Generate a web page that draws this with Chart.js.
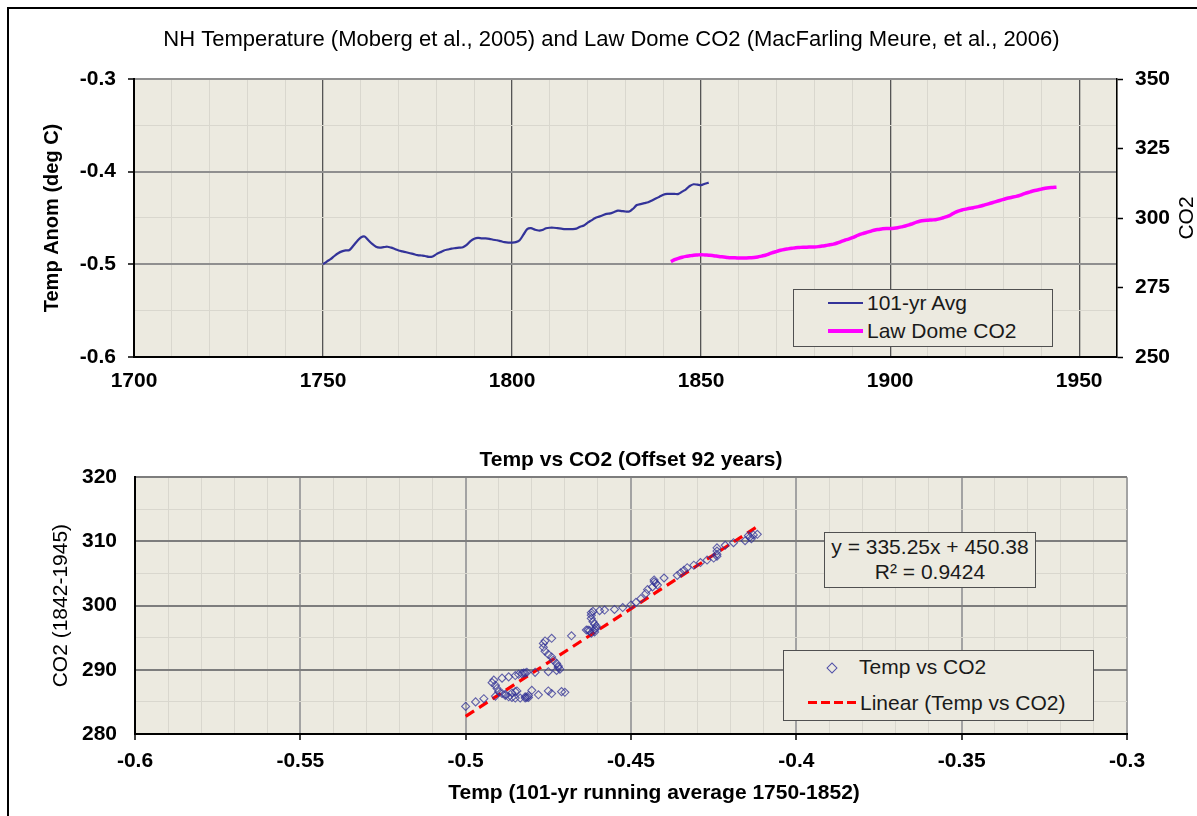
<!DOCTYPE html>
<html>
<head>
<meta charset="utf-8">
<script src="https://cdn.jsdelivr.net/npm/chart.js@4.4.1/dist/chart.umd.min.js"></script>
<style>
  html, body { margin:0; padding:0; background:#fff; overflow:hidden; }
  body { width:1197px; height:816px; position:relative; font-family:"Liberation Sans", Arial, sans-serif; }
  #frame { position:absolute; left:7px; top:7px; width:1300px; height:900px; border-left:2px solid #000; border-top:2px solid #000; }
  canvas { position:absolute; left:0; }
  #c1 { top:0; }
  #c2 { top:420px; }
  .box { position:absolute; background:#ECEAE0; border:1.5px solid #505050; box-sizing:border-box; }
  .txt { position:absolute; font-size:21px; line-height:26px; color:#1a1a1a; white-space:nowrap; }
  .ln { position:absolute; }
</style>
</head>
<body>
<div id="frame"></div>
<canvas id="c1" width="1197" height="420"></canvas>
<canvas id="c2" width="1197" height="396"></canvas>

<!-- top legend -->
<div class="box" style="left:793px;top:289px;width:260px;height:58px;"></div>
<div class="ln" style="left:828px;top:302px;width:35px;height:2px;background:#333399;"></div>
<div class="txt" id="lg1a" style="left:867px;top:290px;"></div>
<div class="ln" style="left:828px;top:329px;width:35px;height:4px;background:#FF00FF;"></div>
<div class="txt" id="lg1b" style="left:867px;top:318px;"></div>

<!-- equation box -->
<div class="box" style="left:824px;top:532px;width:212px;height:56px;"></div>
<div class="txt" id="eq1" style="left:824px;width:212px;text-align:center;top:534px;"></div>
<div class="txt" id="eq2" style="left:824px;width:212px;text-align:center;top:559px;"></div>

<!-- bottom legend -->
<div class="box" style="left:783px;top:650px;width:311px;height:71px;"></div>
<div class="ln" style="left:828px;top:664px;width:6px;height:6px;border:1px solid #5050a8;transform:rotate(45deg);"></div>
<div class="txt" id="lg2a" style="left:859px;top:654px;"></div>
<div class="ln" style="left:808px;top:701px;width:48px;height:3px;background:repeating-linear-gradient(90deg,#FF0000 0,#FF0000 9px,transparent 9px,transparent 13px);"></div>
<div class="txt" id="lg2b" style="left:860px;top:690px;"></div>

<script>
// ---------------- DATA ----------------
const TEMP_START_YEAR = 1750;   // 101-yr running average, 1750-1852
const CO2_START_YEAR = 1842;    // Law Dome CO2, offset 92 years

const tempAvg = [
  -0.500,-0.497,-0.4945,-0.491,-0.488,-0.486,-0.485,-0.4845,-0.480,-0.475,
  -0.471,-0.470,-0.474,-0.478,-0.481,-0.482,-0.4815,-0.481,-0.482,-0.4835,
  -0.485,-0.486,-0.487,-0.488,-0.489,-0.490,-0.4905,-0.491,-0.492,-0.4915,
  -0.489,-0.487,-0.485,-0.484,-0.483,-0.4825,-0.482,-0.4815,-0.479,-0.475,
  -0.4725,-0.4715,-0.472,-0.472,-0.4725,-0.4735,-0.474,-0.475,-0.476,-0.4765,
  -0.4765,-0.476,-0.474,-0.468,-0.462,-0.461,-0.4625,-0.4635,-0.463,-0.461,
  -0.4605,-0.4605,-0.461,-0.4615,-0.462,-0.462,-0.462,-0.4615,-0.4595,-0.458,
  -0.455,-0.4525,-0.450,-0.4485,-0.447,-0.4455,-0.445,-0.4435,-0.442,-0.4425,
  -0.443,-0.443,-0.440,-0.436,-0.435,-0.434,-0.433,-0.431,-0.429,-0.427,
  -0.425,-0.424,-0.424,-0.424,-0.424,-0.4215,-0.419,-0.4155,-0.4136,-0.414,
  -0.4145,-0.413,-0.4118
];

const co2LawDome = [
  284.3,285.0,285.5,285.9,286.2,286.4,286.6,286.7,286.8,286.7,
  286.6,286.5,286.3,286.1,286.0,285.8,285.7,285.7,285.6,285.6,
  285.6,285.7,285.8,286.0,286.3,286.6,287.1,287.6,288.0,288.4,
  288.7,288.9,289.1,289.3,289.4,289.5,289.5,289.6,289.6,289.7,
  289.9,290.1,290.4,290.6,291.0,291.5,292.0,292.4,292.9,293.5,
  294.1,294.5,294.9,295.3,295.7,295.9,296.1,296.2,296.2,296.3,
  296.5,296.8,297.1,297.5,298.0,298.5,298.9,299.1,299.2,299.3,
  299.4,299.7,300.1,300.5,301.1,301.9,302.5,302.9,303.2,303.5,
  303.7,304.0,304.3,304.7,305.1,305.5,305.9,306.3,306.7,307.1,
  307.4,307.7,308.0,308.5,309.0,309.4,309.8,310.1,310.4,310.7,
  310.9,311.0,311.1
];

const trendSlope = 335.25;
const trendIntercept = 450.38;
const trendR2 = 0.9424;

// tick labels
const topXLabels  = [1700, 1750, 1800, 1850, 1900, 1950];
const topYLabels  = [-0.6, -0.5, -0.4, -0.3];
const topY2Labels = [250, 275, 300, 325, 350];
const botXLabels  = [-0.6, -0.55, -0.5, -0.45, -0.4, -0.35, -0.3];
const botYLabels  = [280, 290, 300, 310, 320];

// texts
const titleTop = 'NH Temperature (Moberg et al., 2005) and Law Dome CO2 (MacFarling Meure, et al., 2006)';
const titleBot = 'Temp vs CO2 (Offset 92 years)';
const seriesTempName = '101-yr Avg';
const seriesCO2Name = 'Law Dome CO2';
const scatterName = 'Temp vs CO2';
const trendName = 'Linear (Temp vs CO2)';
const botXTitle = 'Temp (101-yr running average 1750-1852)';

// ---------------- HELPERS ----------------
const FONT = '"Liberation Sans", Arial, sans-serif';
const BG = '#ECEAE0';
const MINOR = '#D9D7CE';
function isLabel(list, v) { return list.some(l => Math.abs(l - v) < 1e-7); }
function labelOf(list, v) { const f = list.find(l => Math.abs(l - v) < 1e-7); return f === undefined ? '' : String(f); }

const plotBg = {
  id: 'plotBg',
  beforeDraw(chart) {
    const {ctx, chartArea: a} = chart;
    ctx.save(); ctx.fillStyle = BG; ctx.fillRect(a.left, a.top, a.right - a.left, a.bottom - a.top); ctx.restore();
  }
};
const rightTitle = {
  id: 'rightTitle',
  afterDraw(chart) {
    const s = chart.scales.y2; const ctx = chart.ctx;
    ctx.save();
    ctx.translate(s.right - 10, (s.top + s.bottom) / 2);
    ctx.rotate(-Math.PI / 2);
    ctx.font = '21px ' + FONT; ctx.fillStyle = '#000';
    ctx.textAlign = 'center'; ctx.textBaseline = 'middle';
    ctx.fillText('CO2', 0, 0);
    ctx.restore();
  }
};
const bottomXTitle = {
  id: 'bottomXTitle',
  afterDraw(chart) {
    const s = chart.scales.x; const ctx = chart.ctx;
    ctx.save();
    ctx.font = 'bold 21px ' + FONT; ctx.fillStyle = '#000';
    ctx.textAlign = 'center'; ctx.textBaseline = 'middle';
    ctx.fillText(botXTitle, (s.left + s.right) / 2 + 23, s.bottom - 23);
    ctx.restore();
  }
};

Chart.defaults.font.family = FONT;
Chart.defaults.color = '#000';

const tickFont = {size: 21, weight: 'bold', family: FONT};

// ---------------- CHART 1 ----------------
new Chart(document.getElementById('c1'), {
  type: 'scatter',
  data: {
    datasets: [
      { label: seriesTempName, yAxisID: 'y',
        data: tempAvg.map((v, i) => ({x: TEMP_START_YEAR + i, y: v})),
        showLine: true, borderColor: '#333399', borderWidth: 2.2, pointRadius: 0, tension: 0.3 },
      { label: seriesCO2Name, yAxisID: 'y2',
        data: co2LawDome.map((v, i) => ({x: CO2_START_YEAR + i, y: v})),
        showLine: true, borderColor: '#FF00FF', borderWidth: 3.5, pointRadius: 0, tension: 0.3 }
    ]
  },
  options: {
    responsive: false, animation: false,
    layout: {padding: {left: 26, right: 0, top: 0, bottom: 0}},
    plugins: {
      legend: {display: false}, tooltip: {enabled: false},
      title: {display: true, text: titleTop, color: '#000',
              font: {size: 22, weight: 'normal', family: FONT}, padding: {top: 27, bottom: 25.6}}
    },
    scales: {
      x: {
        type: 'linear', min: 1700, max: 1960,
        afterFit: s => { s.height = 63; },
        ticks: {stepSize: 10, autoSkip: false, maxRotation: 0, font: tickFont, padding: 12,
                callback: v => labelOf(topXLabels, v)},
        grid: {drawTicks: false,
               color: c => (c.tick && isLabel(topXLabels, c.tick.value)) ? '#555' : MINOR,
               lineWidth: c => (c.tick && isLabel(topXLabels, c.tick.value)) ? 1.3 : 1},
        border: {color: '#000', width: 2}
      },
      y: {
        position: 'left', min: -0.6, max: -0.3,
        afterFit: s => { s.width = 108; },
        ticks: {stepSize: 0.05, autoSkip: false, font: tickFont, padding: 12,
                callback: v => { const l = labelOf(topYLabels, v); return l === '' ? '' : Number(l).toFixed(1); }},
        grid: {tickLength: 6,
               color: c => (c.tick && isLabel(topYLabels, c.tick.value)) ? '#8F8F8F' : MINOR,
               lineWidth: c => (c.tick && isLabel(topYLabels, c.tick.value)) ? 2 : 1,
               tickColor: c => (c.tick && isLabel(topYLabels, c.tick.value)) ? '#000' : 'rgba(0,0,0,0)',
               tickWidth: 1.5},
        border: {color: '#000', width: 2},
        title: {display: true, text: 'Temp Anom (deg C)', font: {size: 20, weight: 'bold', family: FONT},
                padding: {top: 14, bottom: 0}}
      },
      y2: {
        position: 'right', min: 250, max: 350,
        afterFit: s => { s.width = 80; },
        ticks: {stepSize: 25, autoSkip: false, font: tickFont, padding: 12,
                callback: v => labelOf(topY2Labels, v)},
        grid: {drawOnChartArea: false, tickLength: 6, tickColor: '#000', tickWidth: 1.5},
        border: {color: '#000', width: 1.5}
      }
    }
  },
  plugins: [plotBg, rightTitle]
});

// ---------------- CHART 2 ----------------
const tMin = Math.min(...tempAvg), tMax = Math.max(...tempAvg);
new Chart(document.getElementById('c2'), {
  type: 'scatter',
  data: {
    datasets: [
      { label: scatterName,
        data: tempAvg.map((t, i) => ({x: t, y: co2LawDome[i]})),
        pointStyle: 'rectRot', pointRadius: 4, borderWidth: 1.1,
        borderColor: 'rgba(50,50,150,0.75)', backgroundColor: 'rgba(0,0,0,0)' },
      { label: trendName,
        data: [{x: tMin, y: trendSlope * tMin + trendIntercept}, {x: tMax, y: trendSlope * tMax + trendIntercept}],
        showLine: true, pointRadius: 0, borderColor: '#FF0000', borderWidth: 3.2, borderDash: [10, 6] }
    ]
  },
  options: {
    responsive: false, animation: false,
    layout: {padding: {left: 0, right: 70, top: 0, bottom: 0}},
    plugins: {
      legend: {display: false}, tooltip: {enabled: false},
      title: {display: true, fullSize: false, text: titleBot, color: '#000',
              font: {size: 21, weight: 'bold', family: FONT}, padding: {top: 28, bottom: 4}}
    },
    scales: {
      x: {
        type: 'linear', min: -0.6, max: -0.3,
        afterFit: s => { s.height = 82; },
        ticks: {stepSize: 0.01, autoSkip: false, maxRotation: 0, font: tickFont, padding: 9,
                callback: v => labelOf(botXLabels, v)},
        grid: {tickLength: 6,
               color: c => (c.tick && isLabel(botXLabels, c.tick.value)) ? '#A3A3A3' : MINOR,
               lineWidth: c => (c.tick && isLabel(botXLabels, c.tick.value)) ? 2 : 1,
               tickColor: c => (c.tick && isLabel(botXLabels, c.tick.value)) ? '#000' : 'rgba(0,0,0,0)',
               tickWidth: 1.5},
        border: {color: '#000', width: 2}
      },
      y: {
        position: 'left', min: 280, max: 320,
        afterFit: s => { s.width = 135; },
        ticks: {stepSize: 5, autoSkip: false, font: tickFont, padding: 18,
                callback: v => labelOf(botYLabels, v)},
        grid: {drawTicks: false,
               color: c => (c.tick && isLabel(botYLabels, c.tick.value)) ? '#7D7D7D' : MINOR,
               lineWidth: c => (c.tick && isLabel(botYLabels, c.tick.value)) ? 2 : 1},
        border: {color: '#000', width: 2},
        title: {display: true, text: 'CO2 (1842-1945)', font: {size: 21, weight: 'normal', family: FONT},
                padding: {top: 49, bottom: 0}}
      }
    }
  },
  plugins: [plotBg, bottomXTitle]
});

// ---------------- overlay texts ----------------
document.getElementById('lg1a').textContent = seriesTempName;
document.getElementById('lg1b').textContent = seriesCO2Name;
document.getElementById('lg2a').textContent = scatterName;
document.getElementById('lg2b').textContent = trendName;
document.getElementById('eq1').textContent = 'y = ' + trendSlope + 'x + ' + trendIntercept;
document.getElementById('eq2').textContent = 'R\u00B2 = ' + trendR2;
</script>
</body>
</html>
